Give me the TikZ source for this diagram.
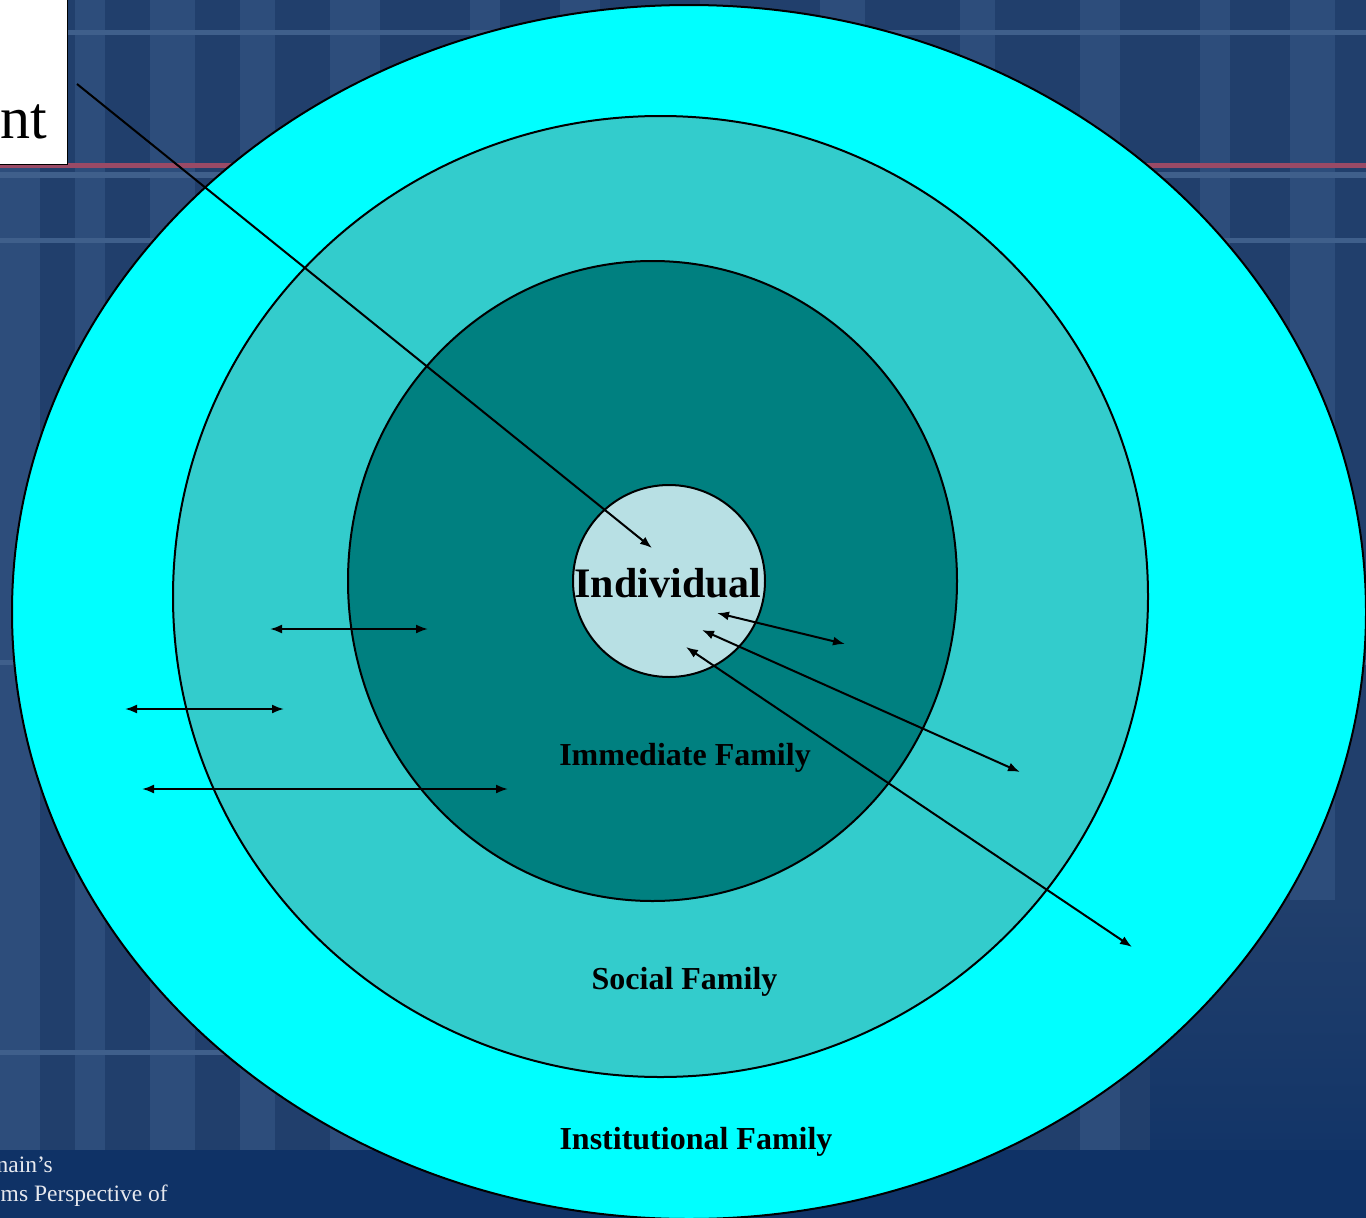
\documentclass[tikz,border=0pt]{standalone}
\usepackage{fontspec}
\setmainfont{Liberation Serif}
\usetikzlibrary{shapes.geometric,arrows.meta}
\definecolor{bgnavy}{HTML}{213F6C}
\definecolor{bgdark}{HTML}{0F3266}
\definecolor{bgspine}{HTML}{2D4D7B}
\definecolor{bgline}{HTML}{3F5F8B}
\definecolor{shelfred}{HTML}{9A4A66}
\definecolor{ringA}{HTML}{00FFFF}
\definecolor{ringB}{HTML}{33CCCC}
\definecolor{ringC}{HTML}{008080}
\definecolor{ringD}{HTML}{B8E0E4}
\definecolor{capgray}{HTML}{E6E8EE}
\begin{document}
\begin{tikzpicture}[x=1pt,y=-1pt,
  ring/.style={ellipse,draw=black,line width=2pt,inner sep=0pt,outer sep=0pt},
  lbl/.style={font=\bfseries\fontsize{32}{36}\selectfont,anchor=base,inner sep=0pt},
  dbl/.style={line width=2pt,{Latex[length=12pt,width=9pt]}-{Latex[length=12pt,width=9pt]}},
  sgl/.style={line width=2pt,-{Latex[length=12pt,width=9pt]}},
  captext/.style={font=\fontsize{23.5}{27}\selectfont,text=capgray,anchor=base east,inner sep=0pt}]
\useasboundingbox (0,0) rectangle (1366,1218);
% background
\fill[bgnavy] (0,0) rectangle (1366,1218);
\foreach \xa/\wa in {0/40,75/30,150/45,240/35,330/50,470/30,560/40,700/30,820/45,960/35,1080/40,1200/30,1290/45}
  \fill[bgspine] (\xa,0) rectangle (\xa+\wa,1150);
\fill[bgline] (0,30) rectangle (1366,35);
\fill[bgline] (0,238) rectangle (1366,243);
\fill[bgline] (0,660) rectangle (1366,665);
\fill[bgline] (0,1050) rectangle (1366,1055);
\fill[shelfred] (0,163) rectangle (1366,168);
\fill[bgline] (0,172) rectangle (1366,178);
\shade[top color=bgnavy,bottom color=bgdark] (1150,900) rectangle (1366,1218);
\fill[bgdark] (0,1150) rectangle (1366,1218);
% rings
\node[ring,fill=ringA,minimum width=1354pt,minimum height=1214pt] (inst) at (689,612) {};
\node[ring,fill=ringB,minimum width=975pt,minimum height=961pt] (social) at (660.5,596.5) {};
\node[ring,fill=ringC,minimum width=609pt,minimum height=640pt] (immed) at (652.5,581) {};
\node[ring,fill=ringD,minimum width=192pt,minimum height=192pt] (indiv) at (669,581) {};
% labels
\node[lbl,font=\bfseries\fontsize{42}{46}\selectfont] (indivtxt) at (668,597) {Individual};
\node[lbl] (immedtxt) at (685,765) {Immediate Family};
\node[lbl] (socialtxt) at (684.5,989) {Social Family};
\node[lbl] (insttxt) at (696,1149) {Institutional Family};
% box at top left
\node[draw=black,fill=white,line width=1.5pt,minimum width=100pt,minimum height=200pt,inner sep=0pt,anchor=south east] (topbox) at (68,165) {};
\node[font=\fontsize{60}{66}\selectfont,anchor=base east,inner sep=0pt] (boxtxt) at (47,138) {nt};
% caption bottom left
\node[captext] (capA) at (53,1172) {nain’s};
\node[captext] (capB) at (168,1201) {ms Perspective of};
% connector points
\coordinate (boxend) at (77,84);
\coordinate (inA) at (652,548);
\coordinate (inB) at (717,613);
\coordinate (outB) at (845,644);
\coordinate (inC) at (702,630);
\coordinate (outC) at (1020,772);
\coordinate (inD) at (686,647);
\coordinate (outD) at (1132,947);
\coordinate (hAl) at (270,629);
\coordinate (hAr) at (428,629);
\coordinate (hBl) at (125,709);
\coordinate (hBr) at (284,709);
\coordinate (hCl) at (142,789);
\coordinate (hCr) at (508,789);
% connectors
\draw[sgl] (boxend) -- (inA);
\draw[dbl] (inB) -- (outB);
\draw[dbl] (inC) -- (outC);
\draw[dbl] (inD) -- (outD);
\draw[dbl] (hAl) -- (hAr);
\draw[dbl] (hBl) -- (hBr);
\draw[dbl] (hCl) -- (hCr);
\end{tikzpicture}
\end{document}
